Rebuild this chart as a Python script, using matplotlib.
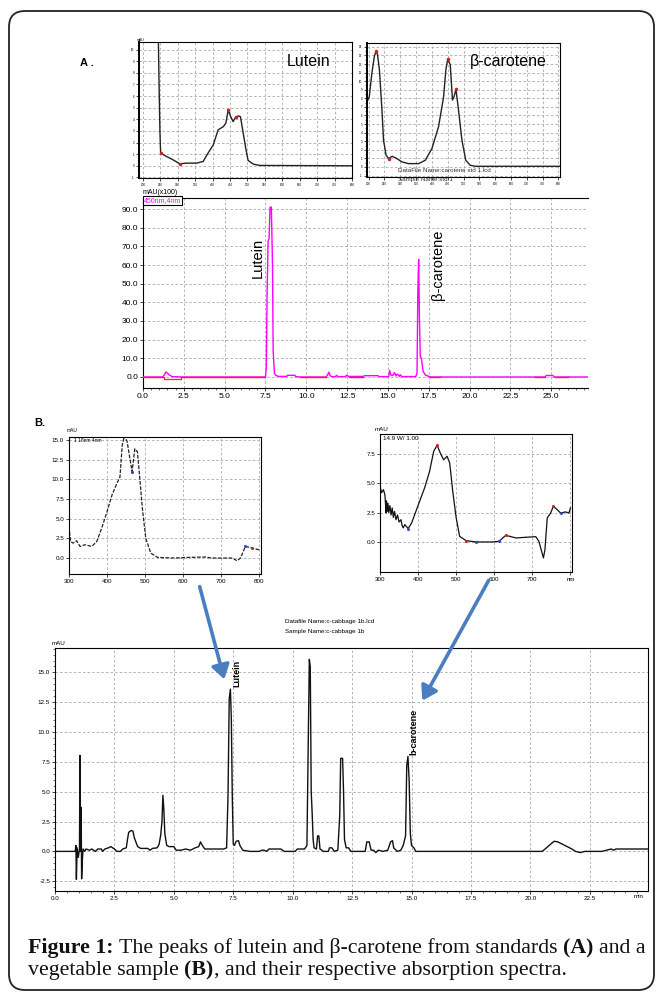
import numpy as np
import matplotlib
matplotlib.use('Agg')
import matplotlib.pyplot as plt
from matplotlib.patches import FancyBboxPatch, FancyArrowPatch
from matplotlib.ticker import MultipleLocator, FormatStrFormatter

# ---------------- data ----------------
# A: lutein standard absorption spectrum (wavelength nm, mAU)
lut_std_wl = [244, 246, 249, 251, 268, 287, 306, 325, 354, 373, 387, 402, 416, 431, 438, 445,
              452, 459, 466, 474, 480, 488, 496, 502, 517, 536, 800]
lut_std_ab = [12.0, 8.0, 3.0, 1.09, 0.8, 0.51, 0.17, 0.23, 0.23, 0.37, 1.09, 1.8, 3.09, 3.37, 3.66, 4.8,
              4.23, 3.8, 4.17, 4.29, 4.23, 2.8, 1.37, 0.46, 0.14, 0.03, 0.0]
# A: beta-carotene standard absorption spectrum
bc_std_wl = [195, 202, 210, 218, 223, 228, 234, 242, 247, 255, 263, 274, 289, 305, 326, 358, 379, 400,
             421, 437, 444, 450, 458, 465, 470, 476, 484, 495, 507, 521, 537, 805]
bc_std_ab = [7.6, 8.2, 10.9, 12.9, 13.5, 13.1, 11.3, 6.64, 3.1, 1.37, 0.98, 1.25, 0.98, 0.59, 0.39, 0.39,
             0.78, 2.15, 4.7, 8.2, 11.3, 12.6, 11.9, 7.8, 8.2, 9.06, 6.64, 3.1, 0.78, 0.2, 0.08, 0.08]
# A: standards chromatogram (min, mAU x100)
std_t = [0.0, 1.2, 1.3, 1.4, 1.5, 1.65, 1.8, 2.4, 7.5, 7.55, 7.6, 7.66, 7.72, 7.78, 7.86, 7.93, 7.97,
         8.05, 8.15, 8.3, 8.8, 8.85, 9.3, 9.35, 9.6, 11.2, 11.3, 11.38, 11.45, 11.55, 11.8, 11.85, 11.95,
         12.4, 12.45, 12.6, 13.5, 13.55, 14.4, 14.45, 15.05, 15.1, 15.18, 15.3, 15.4, 15.5, 15.55, 15.6,
         15.7, 15.75, 15.85, 16.7, 16.78, 16.83, 16.88, 16.93, 16.98, 17.05, 17.15, 17.3, 17.45, 17.6,
         24.6, 24.7, 25.1, 25.2, 27.3]
std_y = [0, 0, 1.0, 2.7, 2.0, 0.8, 0.2, 0, 0, 5, 45, 73, 74, 91, 91, 60, 14,
         2, 0.8, 0.3, 0.3, 0.9, 0.9, 0.2, 0, 0, 1.0, 2.6, 0.8, 0.2, 0.2, 0.9, 0.2,
         0.2, 0.9, 0.3, 0.3, 0.7, 0.7, 0.2, 0.2, 3.5, 1.0, 0.8, 2.4, 0.5, 1.5, 1.4,
         0.3, 1.2, 0.2, 0.2, 2, 46, 63, 30, 11, 10, 3, 1, 0.5, 0,
         0, 0.8, 0.8, 0, 0]
# red integration baseline segments on the standards chromatogram (start, end in min)
base_seg = [(0.0, 1.2), (2.4, 7.5), (9.6, 11.2), (12.6, 13.5), (17.6, 18.2), (24.0, 24.6), (25.2, 26.0)]
# B: sample lutein peak spectrum
lut_s_wl = [300, 304, 311, 320, 329, 342, 360, 373, 386, 400, 413, 426, 434, 440, 446, 453, 460, 466,
            473, 480, 487, 493, 502, 515, 533, 578, 613, 658, 676, 729, 742, 751, 764, 782, 800]
lut_s_ab = [4.0, 2.1, 1.9, 2.2, 1.48, 1.69, 1.48, 2.1, 3.8, 5.9, 8.0, 9.5, 10.3, 14.35, 15.6, 14.8, 12.7, 11.0,
            13.9, 13.5, 9.7, 6.3, 2.5, 0.63, 0.08, 0.0, 0.08, 0.13, 0.0, 0.0, -0.34, 0.0, 1.48, 1.27, 1.05]
# B: sample beta-carotene peak spectrum
bc_s_wl = [300, 304, 309, 313, 316, 317, 319, 321, 323, 326, 329, 332, 335, 338, 342, 346, 350, 355, 358,
           361, 365, 374, 383, 396, 404, 417, 430, 441, 450, 458, 467, 476, 483, 491, 500, 509, 526, 552,
           596, 613, 630, 657, 683, 709, 717, 729, 733, 739, 748, 755, 765, 774, 787, 796, 800]
bc_s_ab = [4.75, 4.2, 4.46, 4.0, 2.47, 3.5, 2.6, 3.3, 2.5, 3.1, 2.3, 2.9, 2.1, 2.6, 1.9, 2.3, 1.7, 1.9, 1.4,
           1.2, 1.48, 1.14, 1.62, 2.76, 3.47, 4.6, 6.0, 7.73, 8.24, 7.6, 7.0, 7.3, 6.73, 4.3, 2.05, 0.48, 0.11, 0.0,
           0.0, 0.06, 0.57, 0.34, 0.4, 0.45, 0.06, -1.36, -0.65, 2.05, 2.47, 3.04, 2.76, 2.47, 2.56, 2.47, 2.9]
# B: cabbage sample chromatogram (min, mAU)
cab_t = [0.0, 0.85, 0.88, 0.9, 0.93, 0.98, 1.03, 1.05, 1.07, 1.1, 1.12, 1.15, 1.18, 1.25, 1.3, 1.45, 1.55,
         1.7, 1.8, 1.95, 2.0, 2.1, 2.25, 2.35, 2.5, 2.6, 2.75, 2.85, 3.0, 3.05, 3.1, 3.2, 3.28, 3.33, 3.4,
         3.48, 3.6, 3.9, 4.0, 4.1, 4.3, 4.38, 4.45, 4.5, 4.54, 4.58, 4.62, 4.7, 4.8, 5.0, 5.1, 5.3, 5.5,
         5.7, 5.9, 6.05, 6.12, 6.2, 6.3, 6.6, 6.9, 7.1, 7.22, 7.28, 7.33, 7.38, 7.42, 7.46, 7.5, 7.55,
         7.62, 7.72, 7.78, 7.9, 8.2, 8.6, 8.7, 8.8, 8.9, 9.0, 9.5, 9.65, 10.1, 10.2, 10.5, 10.6, 10.66,
         10.7, 10.74, 10.78, 10.82, 10.86, 10.9, 11.0, 11.05, 11.1, 11.15, 11.3, 11.5, 11.55, 11.65, 11.75,
         11.9, 11.98, 12.02, 12.1, 12.14, 12.18, 12.25, 12.35, 12.45, 12.6, 12.9, 13.05, 13.12, 13.22, 13.3,
         13.4, 13.5, 13.6, 13.8, 14.0, 14.12, 14.2, 14.25, 14.4, 14.55, 14.65, 14.75, 14.8, 14.85, 14.9,
         14.95, 15.0, 15.1, 15.18, 15.5, 20.0, 20.5, 20.65, 20.85, 21.0, 21.15, 21.35, 21.55, 21.75, 21.9,
         22.1, 22.3, 23.0, 23.2, 23.4, 23.5, 23.6, 24.95]
cab_y = [0.0, 0.0, 0.5, -2.35, 0.3, -0.5, 0.2, 8.05, 0.0, 3.7, -2.3, -0.8, 0.2, 0.0, 0.2, 0.1, 0.2,
         0.0, 0.2, 0.2, 0.0, 0.2, 0.3, 0.4, 0.2, 0.0, 0.0, 0.2, 0.3, 1.0, 1.6, 1.75, 1.7, 1.2, 0.8,
         0.4, 0.25, 0.25, 0.1, 0.25, 0.3, 0.6, 1.4, 2.5, 4.7, 3.5, 1.5, 0.5, 0.4, 0.4, 0.1, 0.1, 0.2,
         0.1, 0.3, 0.4, 0.8, 0.5, 0.2, 0.2, 0.2, 0.2, 0.3, 4.7, 12.8, 13.6, 11.0, 4.5, 0.6, 0.5,
         0.85, 0.9, 0.5, 0.1, 0.0, 0.0, 0.1, 0.1, 0.0, 0.2, 0.2, 0.0, 0.0, 0.2, 0.2, 0.5, 9.5,
         16.1, 15.5, 5.0, 3.2, 1.0, 0.3, 0.2, 1.3, 1.3, 0.2, 0.0, 0.0, 0.3, 0.3, 0.0,
         0.1, 3.0, 7.8, 7.8, 5.0, 1.0, 0.3, 0.3, 0.0, 0.0, 0.0, 0.0, 0.8, 0.8, 0.1,
         0.1, -0.1, 0.1, 0.0, 0.1, 0.8, 0.9, 0.3, 0.0, 0.1, 0.5, 1.3, 7.2, 7.96, 6.0,
         1.5, 0.5, 0.3, 0.0, 0.0, 0.0, 0.0, 0.25, 0.6, 0.85, 0.8, 0.6, 0.4, 0.2, 0.0,
         -0.1, 0.0, 0.0, 0.1, 0.2, 0.1, 0.2, 0.2]
spec_ticks = [200, 250, 300, 350, 400, 450, 500, 550, 600, 650, 700, 750, 800]

W, H = 662, 996
plt.rcParams['font.family'] = ['Liberation Sans', 'DejaVu Sans']
fig = plt.figure(figsize=(W / 100, H / 100), dpi=100)

def ax_px(l, t, r, b, z=1):
    return fig.add_axes([l / W, 1 - b / H, (r - l) / W, (b - t) / H], zorder=z)

GRID = dict(color='#a8a8a8', linestyle=(0, (3, 2.5)), linewidth=0.6)

def style(ax, fs, lw=0.8):
    for s in ax.spines.values():
        s.set_linewidth(lw)
    ax.tick_params(labelsize=fs, length=2, width=0.5, pad=1.5, colors='black')
    ax.tick_params(which='minor', length=1.2, width=0.4)
    ax.grid(True, **GRID)
    ax.set_axisbelow(True)

# background overlay (border)
bg = fig.add_axes([0, 0, 1, 1], zorder=0)
bg.set_xlim(0, W); bg.set_ylim(H, 0); bg.axis('off')
bg.add_patch(FancyBboxPatch((9, 11), 645, 979, boxstyle='round,pad=0,rounding_size=16',
                            fill=False, edgecolor='#222222', linewidth=1.3))

# ---------- A: lutein std spectrum ----------
a1 = ax_px(139, 42, 352, 178)
a1.plot(lut_std_wl, lut_std_ab, color='#222222', lw=1.0)
a1.set_xlim(189, 800); a1.set_ylim(-1.05, 10.65)
a1.set_xticks(spec_ticks); a1.yaxis.set_major_locator(MultipleLocator(1))
style(a1, 2.2)
a1.spines['left'].set_linewidth(1.4)
a1.set_xticklabels(['%d' % v for v in spec_ticks]); a1.yaxis.set_major_formatter(FormatStrFormatter('%d'))
a1.text(675, 9.0, 'Lutein', fontsize=11.5, ha='center', va='center')
a1.plot([251, 306, 445, 466], [1.09, 0.17, 4.8, 4.17], 'o', ms=1.5, color='#cc2222')
fig.text(80 / W, 1 - 63 / H, 'A .', fontsize=8, fontweight='bold', va='center')
fig.text(137 / W, 1 - 40 / H, 'mAU', fontsize=2.5, va='center')

# ---------- A: beta-carotene std spectrum ----------
a2 = ax_px(367, 43, 560, 177)
a2.plot(bc_std_wl, bc_std_ab, color='#222222', lw=1.0)
a2.set_xlim(194.7, 805); a2.set_ylim(-1.17, 14.45)
a2.set_xticks(spec_ticks); a2.yaxis.set_major_locator(MultipleLocator(1))
a2.yaxis.set_minor_locator(MultipleLocator(0.5))
style(a2, 2.2)
a2.spines['left'].set_linewidth(1.4)
a2.set_xticklabels(['%d' % v for v in spec_ticks]); a2.yaxis.set_major_formatter(FormatStrFormatter('%d'))
a2.text(640, 12.3, 'β-carotene', fontsize=11.5, ha='center', va='center')
a2.plot([223, 450, 476, 263], [13.5, 12.6, 9.06, 0.98], 'o', ms=1.5, color='#cc2222')
fig.text(398 / W, 1 - 170 / H, 'DataFile Name:carotene std 1.lcd', fontsize=4.5, va='center', color='#333333')
fig.text(398 / W, 1 - 179 / H, 'Sample Name:std 1', fontsize=4.5, va='center', color='#333333')

# ---------- A: standards chromatogram ----------
a3 = ax_px(143, 198, 588, 388)
a3.plot(std_t, std_y, color='#ff00ff', lw=1.0, zorder=3)
for s0, s1 in base_seg:
    a3.plot([s0, s1], [0, 0], color='#ff2020', lw=1.0, zorder=4)
a3.plot([1.29, 1.29, 2.35, 2.35], [0, -1.0, -1.0, 0], color='#ff2020', lw=0.9, zorder=4)
a3.set_xlim(0, 27.25); a3.set_ylim(-5.9, 95.9)
a3.set_xticks(np.arange(0, 25.1, 2.5)); a3.xaxis.set_minor_locator(MultipleLocator(0.5))
a3.yaxis.set_major_locator(MultipleLocator(10))
style(a3, 6)
a3.spines['right'].set_visible(False)
a3.xaxis.set_major_formatter(FormatStrFormatter('%.1f'))
a3.yaxis.set_major_formatter(FormatStrFormatter('%.1f'))
a3.text(7.0, 63.6, 'Lutein', rotation=90, fontsize=10.5, ha='center', va='center')
a3.text(18.05, 60, 'β-carotene', rotation=90, fontsize=10.5, ha='center', va='center')
fig.text(143 / W, 1 - 192 / H, 'mAU(x100)', fontsize=5, va='center')
fig.text(144 / W, 1 - 200.5 / H, '450nm,4nm', fontsize=5, va='center', color='#ff00ff',
         bbox=dict(boxstyle='square,pad=0.15', fc='white', ec='black', lw=0.8))

fig.text(34 / W, 1 - 423 / H, 'B.', fontsize=8, fontweight='bold', va='center')

# ---------- B: sample lutein spectrum ----------
b1 = ax_px(69, 437, 261, 574)
b1.plot(lut_s_wl, lut_s_ab, color='#222222', lw=0.9, linestyle=(0, (3, 1.2)))
b1.set_xlim(300, 805); b1.set_ylim(-2.03, 15.4)
b1.set_xticks([300, 400, 500, 600, 700, 800]); b1.yaxis.set_major_locator(MultipleLocator(2.5))
style(b1, 4.5)
b1.xaxis.set_major_formatter(FormatStrFormatter('%d'))
b1.yaxis.set_major_formatter(FormatStrFormatter('%.1f'))
b1.plot([466, 764], [11.0, 1.48], 'o', ms=1.2, color='#3344cc')
b1.plot([782], [1.27], 'o', ms=1.2, color='#cc2222')
fig.text(67 / W, 1 - 430 / H, 'mAU', fontsize=3.5, va='center')
fig.text(74 / W, 1 - 441 / H, '1 18nm 4nm', fontsize=3.5, va='center')

# ---------- B: sample beta-carotene spectrum ----------
b2 = ax_px(380, 434, 572, 572)
b2.plot(bc_s_wl, bc_s_ab, color='#111111', lw=0.9)
b2.set_xlim(300, 804); b2.set_ylim(-2.56, 9.2)
b2.set_xticks([300, 400, 500, 600, 700, 800]); b2.set_yticks([0, 2.5, 5.0, 7.5])
style(b2, 4.5)
b2.set_xticklabels(['300', '400', '500', '600', '700', 'nm'])
b2.yaxis.set_major_formatter(FormatStrFormatter('%.1f'))
b2.plot([450, 526, 630, 755], [8.24, 0.11, 0.57, 3.04], 'o', ms=1.2, color='#cc2222')
b2.plot([374, 552, 613, 774], [1.14, 0.0, 0.06, 2.47], 'o', ms=1.2, color='#3344cc')
fig.text(375 / W, 1 - 429 / H, 'mAU', fontsize=4.5, va='center')
fig.text(383 / W, 1 - 439 / H, '14.9 W/ 1.00', fontsize=4.5, va='center')

# ---------- B: cabbage chromatogram ----------
c1 = ax_px(55, 648, 648, 891)
c1.plot(cab_t, cab_y, color='#111111', lw=1.0)
c1.set_xlim(0, 24.95); c1.set_ylim(-3.32, 17.05)
c1.set_xticks(np.arange(0, 22.6, 2.5)); c1.xaxis.set_minor_locator(MultipleLocator(0.5))
c1.yaxis.set_major_locator(MultipleLocator(2.5)); c1.yaxis.set_minor_locator(MultipleLocator(0.5))
style(c1, 4.5)
c1.xaxis.set_major_formatter(FormatStrFormatter('%.1f'))
c1.yaxis.set_major_formatter(FormatStrFormatter('%.1f'))
c1.text(24.55, -3.6, 'min', fontsize=4.5, ha='center', va='top')
c1.text(7.67, 13.75, 'Lutein', rotation=90, fontsize=6.5, fontweight='bold', ha='center', va='bottom')
c1.text(15.12, 8.05, 'b-carotene', rotation=90, fontsize=6.5, fontweight='bold', ha='center', va='bottom')
fig.text(52 / W, 1 - 643 / H, 'mAU', fontsize=4.5, va='center')
fig.text(285 / W, 1 - 622 / H, 'Datafile Name:c-cabbage 1b.lcd', fontsize=4.5, va='center')
fig.text(285 / W, 1 - 631 / H, 'Sample Name:c-cabbage 1b', fontsize=4.5, va='center')

# ---------- overlay: arrows & caption ----------
ov = fig.add_axes([0, 0, 1, 1], zorder=20)
ov.set_xlim(0, W); ov.set_ylim(H, 0); ov.axis('off'); ov.patch.set_alpha(0)
for (x0, y0), (x1, y1) in [((199, 584), (225, 682)), ((490, 578), (421, 703))]:
    ov.add_patch(FancyArrowPatch((x0, y0), (x1, y1), arrowstyle='-|>,head_length=0.7,head_width=0.45',
                                 mutation_scale=12, color='#4a7ec0', lw=2.6))

serif = ['Liberation Serif', 'DejaVu Serif']
fig.canvas.draw()
rend = fig.canvas.get_renderer()

def width(s, size, bold):
    t = ov.text(0, 0, s, fontsize=size, family=serif, fontweight='bold' if bold else 'normal')
    w = t.get_window_extent(renderer=rend).width
    t.remove()
    return w

line1 = [('Figure 1:', True), ('The peaks of lutein and β-carotene from standards', False),
         ('(A)', True), ('and a', False)]

size = 12
tot = sum(width(s, size, b) for s, b in line1)
sp = width('x x', size, False) - width('xx', size, False)
size = size * 617 / (tot + sp * 3)
sp = width('x x', size, False) - width('xx', size, False)

x = 28
for s, b in line1:
    t = ov.text(x, 953, s, fontsize=size, family=serif, fontweight='bold' if b else 'normal',
                va='baseline', ha='left', color='#111111')
    x += t.get_window_extent(renderer=rend).width + sp

x = 28
t = ov.text(x, 975, 'vegetable sample', fontsize=size, family=serif, va='baseline', color='#111111')
x += t.get_window_extent(renderer=rend).width + sp
t = ov.text(x, 975, '(B)', fontsize=size, family=serif, fontweight='bold', va='baseline', color='#111111')
x += t.get_window_extent(renderer=rend).width
ov.text(x, 975, ', and their respective absorption spectra.', fontsize=size, family=serif,
        va='baseline', color='#111111')

fig.savefig('out.png', dpi=100)
